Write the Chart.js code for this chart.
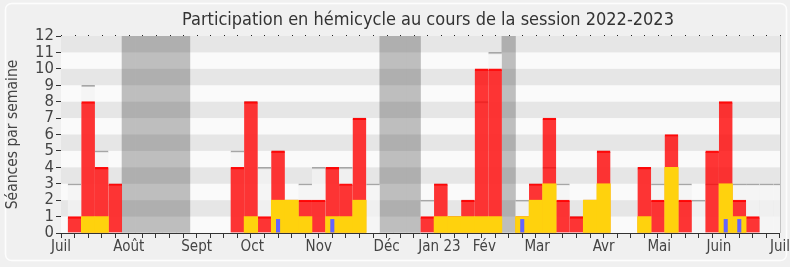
<!DOCTYPE html>
<html><head><meta charset="utf-8">
<script src="https://cdn.jsdelivr.net/npm/chart.js@4/dist/chart.umd.min.js"></script>
<style>html,body{margin:0;padding:0;background:#f0f0f0;}canvas{display:block;}</style>
</head><body>
<canvas id="c" width="790" height="267"></canvas>
<script>
// ---- data ----
const weeks = [1,2,3,4,5,6,7,8,9,10,11,12,13,14,15,16,17,18,19,20,21,22,23,24,25,26,27,28,29,30,31,32,33,34,35,36,37,38,39,40,41,42,43,44,45,46,47,48,49,50,51,52,53];
const presence = [1,8,4,3,0,0,0,0,0,0, 0,0,4,8,1,5,2,2,2,4, 3,7,0,0,0,0,1,3,1,2, 10,10,0,1,3,7,2,1,2,5, 0,0,4,2,6,2,0,5,8,2, 1,0,0];
const interventions = [0,1,1,0,0,0,0,0,0,0, 0,0,0,1,0,2,2,1,0,1, 1,2,0,0,0,0,0,1,1,1, 1,1,0,1,2,3,0,0,2,3, 0,0,1,0,4,0,0,0,3,1, 0,0,0];
const sessions = [3,9,5,3,0,0,0,0,0,0, 0,0,5,8,4,5,2,3,4,4, 4,7,3,0,0,0,2,3,1,2, 8,11,0,2,3,4,3,1,2,5, 0,0,4,3,3,3,2,3,3,3, 3,3,3];
const questions = [0,0,0,0,0,0,0,0,0,0, 0,0,0,0,0,0.85,0,0,0,0.85, 0,0,0,0,0,0,0,0,0,0, 0,0,0,0.85,0,0,0,0,0,0, 0,0,0,0,0,0,0,0,0.85,0.85, 0,0,0];
const vacationWeeks = [5,6,7,8,9,24,25,26,33];
const vacationHeight = 12;
const yTicks = [0,1,2,3,4,5,6,7,8,9,10,11,12];
const monthLabels = ['Juil','Août','Sept','Oct','Nov','Déc','Jan 23','Fév','Mar','Avr','Mai','Juin','Juil'];
const monthWeeks = [0,5,10,14.1,19,24,27.9,31.2,35.1,40,44.1,48.5,53];
const weekTicks = [0].concat(weeks);

const FONT = "'DejaVu Sans Condensed','DejaVu Sans',sans-serif";
const pts = arr => weeks.map((w,i)=>({x:w,y:arr[i]})).filter(p=>p.y>0);

const bgPlugin = {
  id:'bg',
  afterLayout(chart){
    const t = chart.titleBlock;
    if (t) { t.left += 15; }
  },
  beforeDraw(chart){
    const ctx = chart.ctx;
    ctx.save();
    ctx.fillStyle = '#f0f0f0';
    ctx.fillRect(0,0,chart.width,chart.height);
    ctx.strokeStyle = '#fdfdfd';
    ctx.lineWidth = 1.5;
    const x=5.5,y=3.5,w=781,h=257,r=6;
    ctx.beginPath();
    ctx.moveTo(x+r,y);ctx.arcTo(x+w,y,x+w,y+h,r);ctx.arcTo(x+w,y+h,x,y+h,r);ctx.arcTo(x,y+h,x,y,r);ctx.arcTo(x,y,x+w,y,r);ctx.closePath();
    ctx.stroke();
    ctx.restore();
  },
  beforeDatasetsDraw(chart){
    const {ctx, chartArea:a} = chart;
    ctx.save();
    ctx.fillStyle = '#fafafa';
    ctx.fillRect(a.left, a.top, a.right-a.left, a.bottom-a.top);
    ctx.restore();
  },
  afterDatasetDraw(chart, args){
    if (chart.data.datasets[args.index].id !== 'vac') return;
    const {ctx, chartArea:a, scales} = chart;
    const ys = scales.y;
    ctx.save();
    ctx.fillStyle = 'rgba(0,0,0,0.08)';
    yTicks.forEach(k=>{
      if (k%2===1 && k<12){
        const t = ys.getPixelForValue(k+1), b = ys.getPixelForValue(k);
        ctx.fillRect(a.left, t, a.right-a.left, b-t);
      }
    });
    ctx.restore();
  },
  afterDraw(chart){
    const {ctx, chartArea:a, scales} = chart;
    ctx.save();
    ctx.fillStyle = '#222';
    weekTicks.forEach(v=>{
      const px = Math.round(scales.x.getPixelForValue(v));
      ctx.fillRect(px, a.top-1, 1, 1);
    });
    ctx.strokeStyle = '#c4c4c4';
    ctx.lineWidth = 1;
    ctx.beginPath();
    ctx.moveTo(Math.round(a.right)+0.5, a.top);
    ctx.lineTo(Math.round(a.right)+0.5, a.bottom);
    ctx.stroke();
    ctx.restore();
  }
};

new Chart(document.getElementById('c'), {
  type:'bar',
  data:{
    datasets:[
      {id:'vac', data: vacationWeeks.map(w=>({x:w,y:vacationHeight})), backgroundColor:'#bebebe', order:5, grouped:false, barPercentage:1, categoryPercentage:1},
      {id:'sessions', data: pts(sessions), backgroundColor:'rgba(243,243,243,0.75)', borderColor:'#a6a6a6', borderWidth:{top:1.5,left:0,right:0,bottom:0}, borderSkipped:'start', order:4, grouped:false, barPercentage:1, categoryPercentage:1},
      {id:'presence', data: pts(presence), backgroundColor:'rgba(255,0,0,0.79)', borderColor:'rgba(255,0,0,0.95)', borderWidth:{top:1.5,left:0,right:0,bottom:0}, borderSkipped:'start', order:3, grouped:false, barPercentage:1, categoryPercentage:1},
      {id:'interventions', data: pts(interventions), backgroundColor:'#ffd20d', order:2, grouped:false, barPercentage:1, categoryPercentage:1},
      {id:'questions', data: pts(questions), backgroundColor:'#6464ff', order:1, grouped:false, barPercentage:0.3, categoryPercentage:1}
    ]
  },
  options:{
    responsive:false,
    animation:false,
    layout:{padding:{left:0,right:10,top:0,bottom:0}},
    plugins:{
      legend:{display:false},
      tooltip:{enabled:false},
      title:{display:true, fullSize:false, text:'Participation en hémicycle au cours de la session 2022-2023', color:'#333', font:{family:FONT, size:18, weight:'normal'}, padding:{top:9.2,bottom:5.2}}
    },
    scales:{
      x:{
        type:'linear', min:0, max:53, weight:0, offset:false,
        afterBuildTicks(s){ s.ticks = weekTicks.map(v=>({value:v})); },
        afterFit(s){ s.height = 5; },
        ticks:{display:false},
        grid:{offset:false, drawOnChartArea:false, drawTicks:true, tickLength:5, tickColor:'#333'},
        border:{display:true, color:'#333', width:1}
      },
      xl:{
        type:'linear', position:'bottom', min:0, max:53, weight:1, offset:false,
        afterBuildTicks(s){ s.ticks = monthWeeks.map(v=>({value:v})); },
        afterFit(s){ s.height = 29; },
        ticks:{autoSkip:false, maxRotation:0, padding:0, color:'#444', font:{family:FONT, size:15},
          callback(v, i){ return monthLabels[i]; }},
        grid:{display:false, drawTicks:false, offset:false},
        border:{display:false}
      },
      y:{
        min:0, max:12,
        afterBuildTicks(s){ s.ticks = yTicks.map(v=>({value:v})); },
        afterFit(s){ s.width = 61; },
        ticks:{autoSkip:false, padding:2, color:'#444', font:{family:FONT, size:16.5}},
        grid:{drawOnChartArea:false, drawTicks:true, tickLength:5, tickColor:'#333'},
        border:{display:true, color:'#333', width:1},
        title:{display:true, text:'Séances par semaine', color:'#444', font:{family:FONT, size:15.5}, padding:{top:4,bottom:0}}
      }
    }
  },
  plugins:[bgPlugin]
});
</script>
</body></html>
